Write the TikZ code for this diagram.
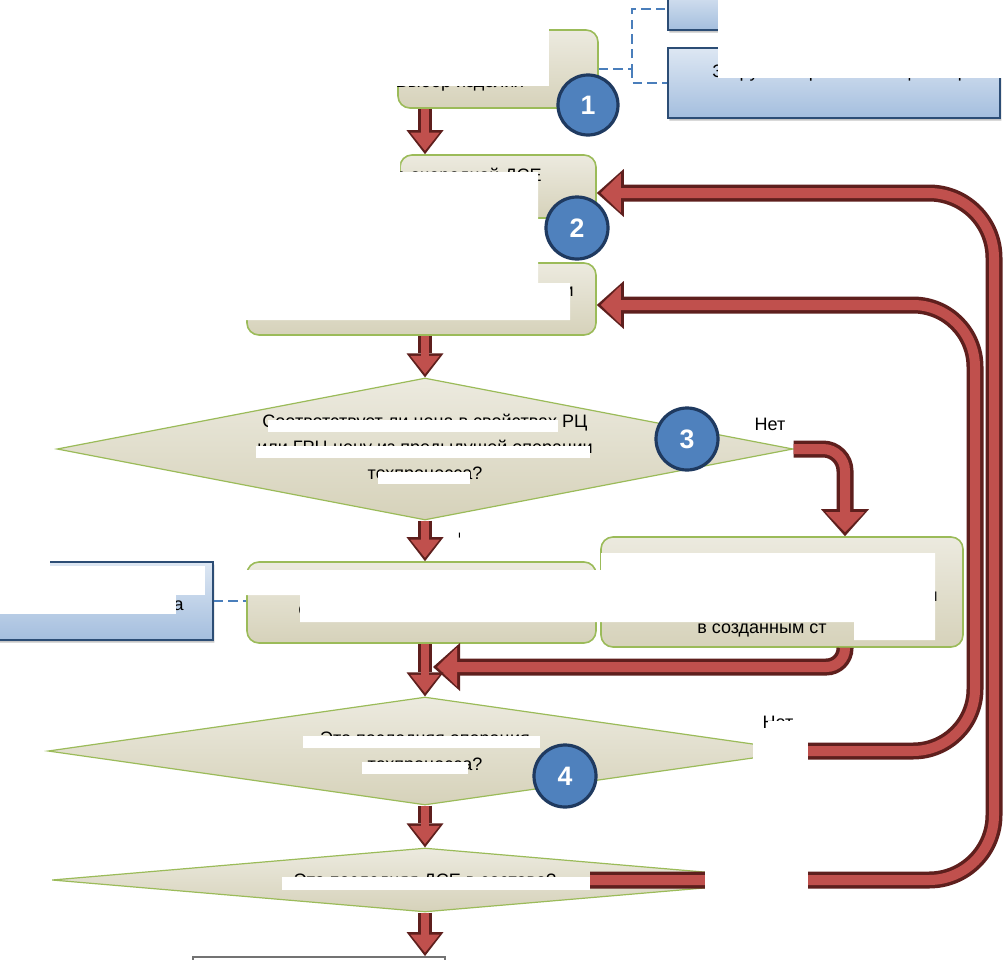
\documentclass[tikz,border=0pt]{standalone}
\usepackage{fontspec}
\setmainfont{Liberation Sans}
\usetikzlibrary{shapes.geometric,shapes.misc,arrows.meta,shadows}
\definecolor{beigeT}{HTML}{ECEADF}
\definecolor{beigeB}{HTML}{D6D2BA}
\definecolor{grn}{HTML}{9BBB59}
\definecolor{blueT}{HTML}{DDE7F3}
\definecolor{blueB}{HTML}{A4BEDE}
\definecolor{blueD}{HTML}{2C4D75}
\definecolor{circF}{HTML}{4F81BD}
\definecolor{circD}{HTML}{1F3A60}
\definecolor{redF}{HTML}{C0504D}
\definecolor{redD}{HTML}{5E1F1D}
\definecolor{dashB}{HTML}{4A7EBB}
\tikzset{
  box/.style={draw=grn, line width=1.2pt, rounded corners=9pt, top color=beigeT, bottom color=beigeB, inner sep=0pt},
  dia/.style={diamond, draw=grn, line width=0.9pt, top color=beigeT, bottom color=beigeB, inner sep=0pt},
  bluebox/.style={chamfered rectangle, chamfered rectangle xsep=8pt, chamfered rectangle ysep=8pt, draw=blueD, line width=1.1pt, top color=blueT, bottom color=blueB, inner sep=0pt, drop shadow={shadow xshift=1pt, shadow yshift=-2pt, fill=black!45}},
  badge/.style={circle, draw=circD, line width=2.4pt, fill=circF, text=white, font=\fontsize{20}{20}\selectfont\bfseries, inner sep=0pt},
  lbl/.style={font=\fontsize{13.5}{15}\selectfont, inner sep=0pt, text=black},
  mask/.style={fill=white, draw=none},
  dashconn/.style={draw=dashB, line width=2.2pt, dash pattern=on 7pt off 4pt},
  rO/.style={draw=redD, line width=12.75pt, -{Triangle[length=20.25pt,width=36pt,line width=0pt]}},
  rI/.style={draw=redF, line width=7.5pt, shorten >=3pt, -{Triangle[length=15pt,width=29.25pt,line width=0pt]}},
  dO/.style={draw=redD, line width=10.5pt, -{Triangle[length=18pt,width=27.75pt,line width=0pt]}},
  dI/.style={draw=redF, line width=6pt, shorten >=2.6pt, -{Triangle[length=13.5pt,width=21.75pt,line width=0pt]}},
}
\newcommand\redflow[3]{\draw[#1O,#3] #2; \draw[#1I,#3] #2;}
\begin{document}
\begin{tikzpicture}[x=0.75pt,y=-0.75pt]
\clip (0,0) rectangle (1003,960);
\fill[white] (0,0) rectangle (1003,960);
% helper coordinates
\coordinate (ax) at (425,0);
\coordinate (dv) at (632,0);
\coordinate (xb4) at (845,0);
\coordinate (yret) at (0,667);
\coordinate (retend) at (433,667);
\coordinate (xr1) at (975,0);
\coordinate (xr2) at (994,0);
\coordinate (y3) at (0,305);
\coordinate (y2) at (0,193);
\coordinate (s3) at (590,0);
% blue boxes
\node[bluebox, chamfered rectangle corners=south west, minimum width=249pt, minimum height=31.5pt] (bA) at (834,9) {};
\node[bluebox, chamfered rectangle corners=south west, minimum width=249pt, minimum height=52.5pt] (bB) at (834,83) {};
\node[bluebox, chamfered rectangle corners={south west,north east}, minimum width=163.5pt, minimum height=58.5pt] (bC) at (104,601) {};
% process boxes
\node[box, minimum width=150pt, minimum height=58.5pt] (b1) at (498,69) {};
\node[box, minimum width=147pt, minimum height=47.25pt] (b2) at (498,186.5) {};
\node[box, minimum width=261.75pt, minimum height=54pt] (b3) at (421.5,299) {};
\node[dia, minimum width=552pt, minimum height=106.5pt] (d1) at (425,449) {};
\node[box, minimum width=271.5pt, minimum height=82.5pt] (b4) at (782,592) {};
\node[box, minimum width=261.75pt, minimum height=60.75pt] (b5) at (421.5,602.5) {};
\node[dia, minimum width=565.5pt, minimum height=81pt] (d2) at (425,751) {};
\node[dia, minimum width=559.5pt, minimum height=48pt] (d3) at (425,880) {};
\node[draw=black!55, line width=1.4pt, fill=white, minimum width=189pt, minimum height=42pt] (e) at (319,985) {};
% dashed links
\draw[dashconn] (b1.east) -- (b1.east -| dv) |- (bA.west);
\draw[dashconn] (b1.east -| dv) |- (bB.west);
\draw[dashconn] (bC.east) -- (bC.east -| b5.west);
% red flow arrows
\redflow{d}{(b1.south -| ax) -- (b2.north -| ax)}{}
\redflow{d}{(b3.south -| ax) -- (d1.north)}{}
\redflow{d}{(d1.south) -- (b5.north -| ax)}{}
\redflow{r}{(d1.east) -- (d1.east -| xb4) -- (b4.north -| xb4)}{rounded corners=16.5pt}
\redflow{r}{(b4.south -| xb4) -- (xb4 |- yret) -- (retend)}{rounded corners=14pt}
\redflow{d}{(b5.south -| ax) -- (d2.north)}{}
\redflow{d}{(d2.south) -- (d3.north)}{}
\redflow{d}{(d3.south) -- (e.north -| ax)}{}
\redflow{r}{(d2.east) -- (d2.east -| xr1) -- (xr1 |- y3) -- (b3.east |- y3)}{rounded corners=46.5pt}
\redflow{r}{(s3 |- d3.center) -- (d3.east -| xr2) -- (xr2 |- y2) -- (b2.east |- y2)}{rounded corners=48.75pt}
% texts
\node[lbl] (tb1) at (460,83) {Выбор изделия};
\node[lbl, anchor=west] (tbB) at (712,73) {Загрузка справочника цен РЦ};
\node[lbl, anchor=east] (tb2) at (542,177) {Выбор очередной ДСЕ};
\node[lbl, anchor=east] (tb3a) at (574,292) {Определение цены РЦ текущей операции};
\node[lbl] (tb3b) at (425,313) {техпроцесса};
\node[lbl] (td1a) at (425,423) {Соответствует ли цена в свойствах РЦ};
\node[lbl] (td1b) at (425,449) {или ГРЦ цену из предыдущей операции};
\node[lbl] (td1c) at (425,475) {техпроцесса?};
\node[lbl] (tno1) at (770,424) {Нет};
\node[lbl] (tyes1) at (470,530) {Да};
\node[lbl, anchor=east] (tbC) at (184,606) {Цена из справочника};
\node[lbl, anchor=west] (tb5) at (298,612) {Сохранение операции с текущим РЦ};
\node[lbl, anchor=east] (tb4a) at (938,597) {Создание ГРЦ с ценой из операции};
\node[lbl, anchor=west] (tb4b) at (697,630) {в созданным ст};
\node[lbl] (td2a) at (425,740) {Это последняя операция};
\node[lbl] (td2b) at (425,766) {техпроцесса?};
\node[lbl] (tno2) at (778,722) {Нет};
\node[lbl] (td3) at (425,882) {Это последняя ДСЕ в составе?};
% white masks
\fill[mask] (380,-2) rectangle (549,86);
\fill[mask] (718,-2) rectangle (1005,78);
\fill[mask] (0,150) -- (400,150) -- (400,172) -- (538,172) -- (538,283) -- (570,283) -- (570,320) -- (0,320) -- cycle;
\fill[mask] (268,420) rectangle (558,432);
\fill[mask] (256,446) rectangle (590,458);
\fill[mask] (378,472) rectangle (470,484);
\fill[mask] (460,515) rectangle (492,545);
\fill[mask] (-2,555) rectangle (50,566);
\fill[mask] (-2,566) rectangle (205,595);
\fill[mask] (-2,595) rectangle (176,614);
\fill[mask] (246,570) -- (601,570) -- (601,553) -- (935,553) -- (935,640) -- (854,640) -- (854,622) -- (300,622) -- (300,595) -- (246,595) -- cycle;
\fill[mask] (303,736) rectangle (540,748);
\fill[mask] (362,762) rectangle (468,774);
\fill[mask] (753,733) rectangle (808,770);
\fill[mask] (768,721) rectangle (812,733);
\fill[mask] (282,877) rectangle (590,890);
\fill[mask] (705,858) rectangle (808,902);
% badges
\node[badge, minimum size=45pt] (c1) at (588,105) {1};
\node[badge, minimum size=46.5pt] (c2) at (577,228) {2};
\node[badge, minimum size=46.5pt] (c3) at (687,439) {3};
\node[badge, minimum size=46.5pt] (c4) at (565,776) {4};
\end{tikzpicture}
\end{document}
